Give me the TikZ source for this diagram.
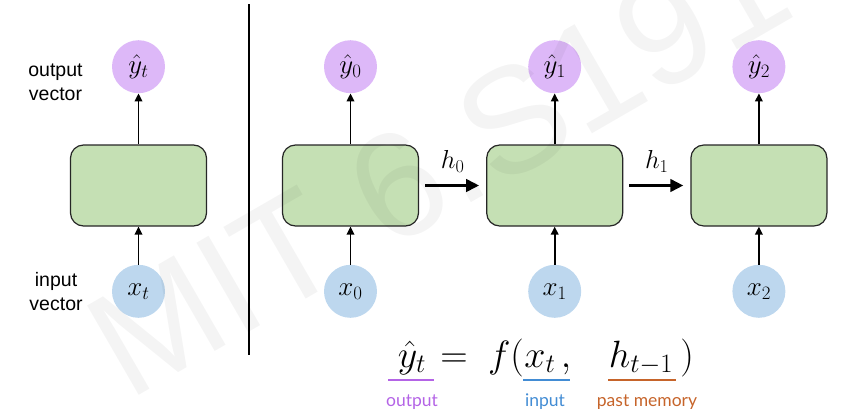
\documentclass[tikz,border=0pt]{standalone}
\usepackage{fix-cm}
\usepackage{amsmath}
\usepackage{fontspec}
\usepackage{tikz}
\usetikzlibrary{positioning,arrows.meta}
\newfontfamily\helvfont{Liberation Sans}
\newfontfamily\gillfont{Lato}
\definecolor{cellgreen}{RGB}{197,224,180}
\definecolor{inblue}{RGB}{189,215,238}
\definecolor{outpurple}{RGB}{221,184,248}
\definecolor{tagpurple}{RGB}{180,100,230}
\definecolor{tagblue}{RGB}{66,140,212}
\definecolor{tagorange}{RGB}{198,100,42}
\tikzset{cell/.style={
        draw=black!85, 
        fill=cellgreen, 
        rounded corners=13pt, 
        minimum width=136pt, 
        minimum height=81pt,  
        line width=1.2pt } }
\tikzset{outvec/.style={
    circle, 
    fill=outpurple, 
    minimum size=53pt, 
    inner sep=0pt,  
    font=\fontsize{27}{32}\selectfont } }
\tikzset{invec/.style={
    circle, 
    fill=inblue, 
    minimum size=53pt, 
    inner sep=0pt,  
    font=\fontsize{27}{32}\selectfont } }
\tikzset{feed/.style={ -{Triangle[length=8pt,width=7.5pt]}, line width=1.8pt } }
\tikzset{carry/.style={ -{Triangle[length=13pt,width=12.5pt]}, line width=2.8pt, shorten <=6pt, shorten >=7pt } }
\tikzset{hlabel/.style={ inner sep=0pt, font=\fontsize{26}{30}\selectfont } }
\tikzset{sidetext/.style={ align=center, inner sep=0pt, font=\helvfont\fontsize{19.5}{24}\selectfont } }
\tikzset{eqtext/.style={ anchor=base, inner sep=0pt, font=\fontsize{38}{44}\selectfont } }
\tikzset{tagtext/.style={ anchor=base, inner sep=0pt, font=\gillfont\fontsize{17.5}{20}\selectfont } }
\tikzset{uline/.style={ line width=2.8pt } }
\tikzset{watermark/.style={ rotate=30, text=black, text opacity=0.045, font=\helvfont\fontsize{150}{150}\selectfont } }

\begin{document}
\begin{tikzpicture}[x=1pt,y=-1pt]

\useasboundingbox (0,0) rectangle (847,413);

%CELLS
\node[cell] (c0) at (138.5,185.5) {};
\node[cell] (c1) at (350.5,185.5) {};
\node[cell] (c2) [right = 67pt of c1] {};
\node[cell] (c3) [right = 67pt of c2] {};

%OUTPUTS
\node[outvec] (yt) [above = 51pt of c0] {$\hat{y}_t$};
\node[outvec] (y0) [above = 51pt of c1] {$\hat{y}_0$};
\node[outvec] (y1) [above = 51pt of c2] {$\hat{y}_1$};
\node[outvec] (y2) [above = 51pt of c3] {$\hat{y}_2$};

%INPUTS
\node[invec] (xt) [below = 38pt of c0] {$x_t$};
\node[invec] (x0) [below = 38pt of c1] {$x_0$};
\node[invec] (x1) [below = 38pt of c2] {$x_1$};
\node[invec] (x2) [below = 38pt of c3] {$x_2$};

%SIDE LABELS
\node[sidetext] (outlbl) [left = 29pt of yt, yshift=-16pt] {output\\vector};
\node[sidetext] (inlbl) [left = 29pt of xt] {input\\vector};

%DIVIDER
\coordinate (divtop) at (249,4);
\coordinate (divbot) at (249,355);
\draw[line width=1.3pt] (divtop) -- (divbot);

\path[feed]
(c0) edge (yt)
(xt) edge (c0)
(c1) edge (y0)
(x0) edge (c1)
(c2) edge (y1)
(x1) edge (c2)
(c3) edge (y2)
(x2) edge (c3)
;

\path[carry]
(c1) edge node [hlabel, above=12pt] {$h_0$} (c2)
(c2) edge node [hlabel, above=12pt] {$h_1$} (c3)
;

%EQUATION
\node[eqtext] (yhat) at (412,367) {$\hat{y}_t$};
\node[eqtext] (eqsign) at (454,367) {$=$};
\node[eqtext] (fopen) at (506,367) {$f($};
\node[eqtext] (xin) at (540,367) {$x_t$};
\node[eqtext] (comma) at (566,367) {$,$};
\node[eqtext] (hprev) at (641,367) {$h_{t-1}$};
\node[eqtext] (fclose) at (687,367) {$)$};

\draw[uline, tagpurple] ([xshift=-24pt,yshift=-13pt]yhat.base) -- ([xshift=22pt,yshift=-13pt]yhat.base);
\draw[uline, tagblue] ([xshift=-17pt,yshift=-13pt]xin.base) -- ([xshift=30pt,yshift=-13pt]xin.base);
\draw[uline, tagorange] ([xshift=-33pt,yshift=-13pt]hprev.base) -- ([xshift=35pt,yshift=-13pt]hprev.base);

\node[tagtext, text=tagpurple] (outtag) at (412,406) {output};
\node[tagtext, text=tagblue] (intag) at (545,406) {input};
\node[tagtext, text=tagorange] (pasttag) at (647,406) {past memory};

%WATERMARK
\node[watermark] (wm) at (438,163) {MIT 6.S191};

\end{tikzpicture}
\end{document}
